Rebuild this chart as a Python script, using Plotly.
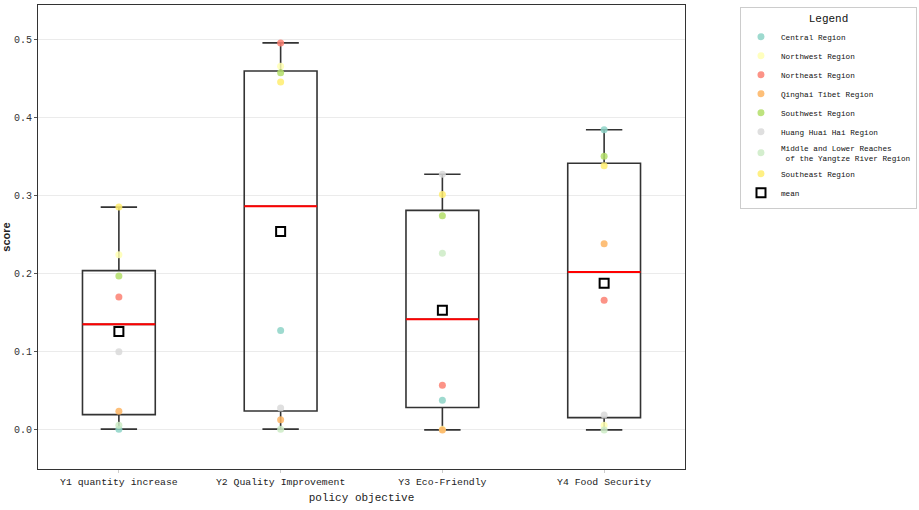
import numpy as np
import plotly.graph_objects as go

categories = ["Y1 quantity increase", "Y2 Quality Improvement", "Y3 Eco-Friendly", "Y4 Food Security"]
regions = ["Central Region", "Northwest Region", "Northeast Region", "Qinghai Tibet Region",
           "Southwest Region", "Huang Huai Hai Region",
           "Middle and Lower Reaches<br> of the Yangtze River Region", "Southeast Region"]
central = [0.001, 0.127, 0.038, 0.384]
northwest = [0.224, 0.465, 0.001, 0.006]
northeast = [0.170, 0.495, 0.057, 0.166]
qinghai = [0.024, 0.013, 0.000, 0.238]
southwest = [0.197, 0.457, 0.274, 0.350]
huanghuaihai = [0.100, 0.028, 0.327, 0.019]
middle_lower = [0.006, 0.001, 0.226, 0.000]
southeast = [0.285, 0.445, 0.301, 0.338]
colors = ["#8dd3c7", "#ffffb3", "#fb8072", "#fdb462", "#b3de69", "#d9d9d9", "#ccebc5", "#ffed6f"]

series = [central, northwest, northeast, qinghai, southwest, huanghuaihai, middle_lower, southeast]
data = np.array(series)  # regions x categories
xs = list(range(len(categories)))
box_w = 0.45

fig = go.Figure()
means = []
for i in xs:
    vals = data[:, i]
    q1, med, q3 = np.percentile(vals, [25, 50, 75])
    means.append(vals.mean())
    fig.add_trace(go.Box(x=[i], q1=[q1], median=[med], q3=[q3],
                         lowerfence=[vals.min()], upperfence=[vals.max()],
                         width=box_w, whiskerwidth=0.5, boxpoints=False,
                         line=dict(color="#333333", width=1.6),
                         fillcolor="rgba(255,255,255,0)", showlegend=False, hoverinfo="skip"))
    fig.add_trace(go.Scatter(x=[i - box_w / 2, i + box_w / 2], y=[med, med], mode="lines",
                             line=dict(color="#ff0000", width=2), showlegend=False, hoverinfo="skip"))

for name, vals, c in zip(regions, series, colors):
    fig.add_trace(go.Scatter(x=xs, y=vals, mode="markers", name=name,
                             marker=dict(color=c, size=7, opacity=0.85, line=dict(width=0))))

fig.add_trace(go.Scatter(x=xs, y=means, mode="markers", name="mean",
                         marker=dict(symbol="square-open", color="black", size=9,
                                     line=dict(color="black", width=2))))

mono = "Liberation Mono"
fig.update_layout(
    width=919, height=510,
    margin=dict(l=38, r=234, t=5, b=41, autoexpand=False),
    paper_bgcolor="white", plot_bgcolor="white",
    font=dict(family=mono, size=10, color="#222222"),
    legend=dict(x=1.085, y=0.996, xanchor="left", yanchor="top",
                bordercolor="#cccccc", borderwidth=1,
                font=dict(family=mono, size=7.7, color="#111111"),
                title=dict(text="Legend", side="top center", font=dict(family=mono, size=11)),
                itemwidth=30, tracegroupgap=0),
    xaxis=dict(range=[-0.5, 3.5], tickvals=xs, ticktext=categories, showgrid=False,
               zeroline=False, showline=True, linecolor="#333333", linewidth=1.2, mirror=True,
               ticks="outside", ticklen=3, tickcolor="#cccccc",
               tickfont=dict(family=mono, size=9.8, color="#222222"),
               title=dict(text="policy objective", standoff=6, font=dict(family=mono, size=11))),
    yaxis=dict(range=[-0.05, 0.5435], dtick=0.1, tick0=0, tickformat=".1f",
               showgrid=True, gridcolor="#ebebeb", gridwidth=1, zeroline=False,
               showline=True, linecolor="#333333", linewidth=1.2, mirror=True,
               ticks="outside", ticklen=3, tickcolor="#555555",
               tickfont=dict(family=mono, size=10, color="#333333"),
               title=dict(text="<b>score</b>", standoff=4,
                          font=dict(family="Liberation Sans", size=11, color="#222222"))),
)

fig.write_html("out.html")
